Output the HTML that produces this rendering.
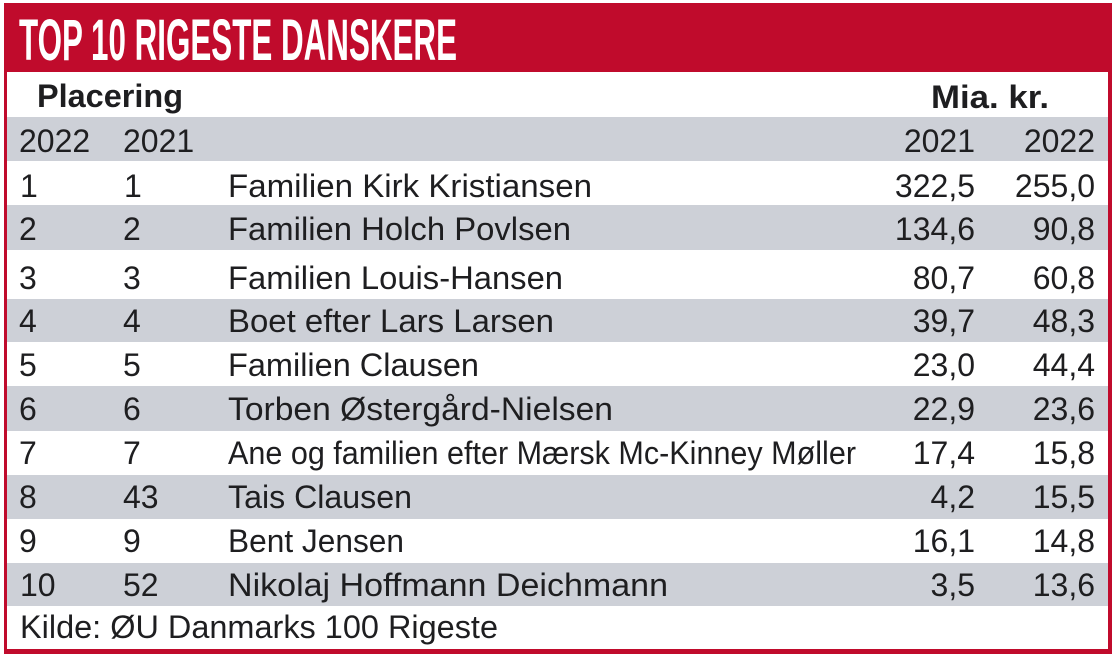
<!DOCTYPE html>
<html>
<head>
<meta charset="utf-8">
<style>
  html,body{margin:0;padding:0;background:#fff;}
  body{width:1116px;height:659px;overflow:hidden;}
  svg{display:block;}
  text{font-family:"Liberation Sans",sans-serif;fill:#1e1e20;}
</style>
</head>
<body>
<svg width="1116" height="659" viewBox="0 0 1116 659" xmlns="http://www.w3.org/2000/svg">
  <rect x="0" y="0" width="1116" height="659" fill="#ffffff"/>
  <!-- red frame -->
  <rect x="4" y="3" width="1108" height="651" fill="#c00b2c"/>
  <rect x="7" y="72" width="1101" height="577" fill="#ffffff"/>
  <!-- gray rows -->
  <g fill="#cdd0d7">
    <rect x="7" y="117" width="1101" height="44"/>
    <rect x="7" y="205" width="1101" height="45"/>
    <rect x="7" y="299" width="1101" height="43"/>
    <rect x="7" y="386" width="1101" height="45"/>
    <rect x="7" y="475" width="1101" height="44"/>
    <rect x="7" y="563" width="1101" height="43"/>
  </g>

  <!-- title -->
  <text x="19" y="60" font-size="58" font-weight="bold" style="fill:#ffffff" textLength="438" lengthAdjust="spacingAndGlyphs">TOP 10 RIGESTE DANSKERE</text>

  <!-- header -->
  <text x="37" y="107" font-size="32" font-weight="bold" textLength="146" lengthAdjust="spacingAndGlyphs">Placering</text>
  <text x="931" y="108" font-size="32" font-weight="bold" textLength="118" lengthAdjust="spacingAndGlyphs">Mia. kr.</text>

  <g font-size="32">
    <text x="19" y="152">2022</text>
    <text x="123" y="152">2021</text>
    <text x="975" y="152" text-anchor="end">2021</text>
    <text x="1095" y="152" text-anchor="end">2022</text>

    <!-- row 1 -->
    <text x="20" y="197">1</text>
    <text x="124" y="197">1</text>
    <text x="228" y="197" textLength="364" lengthAdjust="spacingAndGlyphs">Familien Kirk Kristiansen</text>
    <text x="975" y="197" text-anchor="end">322,5</text>
    <text x="1095" y="197" text-anchor="end">255,0</text>

    <!-- row 2 -->
    <text x="19" y="240">2</text>
    <text x="123" y="240">2</text>
    <text x="228" y="240" textLength="343" lengthAdjust="spacingAndGlyphs">Familien Holch Povlsen</text>
    <text x="975" y="240" text-anchor="end">134,6</text>
    <text x="1095" y="240" text-anchor="end">90,8</text>

    <!-- row 3 -->
    <text x="19" y="289">3</text>
    <text x="123" y="289">3</text>
    <text x="228" y="289" textLength="335" lengthAdjust="spacingAndGlyphs">Familien Louis-Hansen</text>
    <text x="975" y="289" text-anchor="end">80,7</text>
    <text x="1095" y="289" text-anchor="end">60,8</text>

    <!-- row 4 -->
    <text x="19" y="332">4</text>
    <text x="123" y="332">4</text>
    <text x="228" y="332" textLength="326" lengthAdjust="spacingAndGlyphs">Boet efter Lars Larsen</text>
    <text x="975" y="332" text-anchor="end">39,7</text>
    <text x="1095" y="332" text-anchor="end">48,3</text>

    <!-- row 5 -->
    <text x="19" y="376">5</text>
    <text x="123" y="376">5</text>
    <text x="228" y="376" textLength="251" lengthAdjust="spacingAndGlyphs">Familien Clausen</text>
    <text x="975" y="376" text-anchor="end">23,0</text>
    <text x="1095" y="376" text-anchor="end">44,4</text>

    <!-- row 6 -->
    <text x="19" y="420">6</text>
    <text x="123" y="420">6</text>
    <text x="228" y="420" textLength="385" lengthAdjust="spacingAndGlyphs">Torben Østergård-Nielsen</text>
    <text x="975" y="420" text-anchor="end">22,9</text>
    <text x="1095" y="420" text-anchor="end">23,6</text>

    <!-- row 7 -->
    <text x="19" y="464">7</text>
    <text x="123" y="464">7</text>
    <text x="228" y="464" textLength="628" lengthAdjust="spacingAndGlyphs">Ane og familien efter Mærsk Mc-Kinney Møller</text>
    <text x="975" y="464" text-anchor="end">17,4</text>
    <text x="1095" y="464" text-anchor="end">15,8</text>

    <!-- row 8 -->
    <text x="19" y="508">8</text>
    <text x="123" y="508">43</text>
    <text x="228" y="508" textLength="184" lengthAdjust="spacingAndGlyphs">Tais Clausen</text>
    <text x="975" y="508" text-anchor="end">4,2</text>
    <text x="1095" y="508" text-anchor="end">15,5</text>

    <!-- row 9 -->
    <text x="19" y="552">9</text>
    <text x="123" y="552">9</text>
    <text x="228" y="552" textLength="176" lengthAdjust="spacingAndGlyphs">Bent Jensen</text>
    <text x="975" y="552" text-anchor="end">16,1</text>
    <text x="1095" y="552" text-anchor="end">14,8</text>

    <!-- row 10 -->
    <text x="20" y="596">10</text>
    <text x="123" y="596">52</text>
    <text x="228" y="596" textLength="440" lengthAdjust="spacingAndGlyphs">Nikolaj Hoffmann Deichmann</text>
    <text x="975" y="596" text-anchor="end">3,5</text>
    <text x="1095" y="596" text-anchor="end">13,6</text>

    <!-- footer -->
    <text x="20" y="638" textLength="478" lengthAdjust="spacingAndGlyphs">Kilde: ØU Danmarks 100 Rigeste</text>
  </g>
</svg>
</body>
</html>
